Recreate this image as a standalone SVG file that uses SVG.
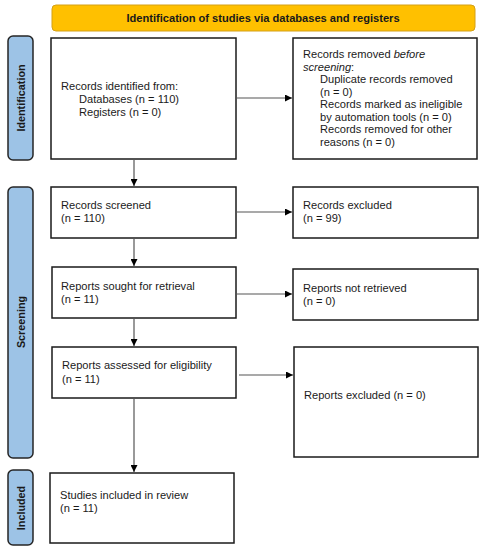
<svg xmlns="http://www.w3.org/2000/svg" width="483" height="550" viewBox="0 0 483 550">
<style>
.box{fill:#fff;stroke:#1a1a1a;stroke-width:1.5}
.side{fill:#9DC3E6;stroke:#262626;stroke-width:1.5}
.t{font-family:"Liberation Sans",Arial,sans-serif;font-size:11.1px;fill:#1a1a1a}
.sb{font-family:"Liberation Sans",Arial,sans-serif;font-size:10.8px;font-weight:bold;fill:#1a1a1a}
.c{stroke:#555;stroke-width:1.2;fill:none;marker-end:url(#ah)}
</style>
<defs>
<marker id="ah" viewBox="0 0 10 10" refX="10" refY="5" markerWidth="7" markerHeight="7" markerUnits="userSpaceOnUse" orient="auto">
<path d="M0,0 L10,5 L0,10 z" fill="#000"/>
</marker>
</defs>
<rect width="483" height="550" fill="#fff"/>
<g id="header">
<rect x="52" y="5" width="423" height="26" rx="4" fill="#FFC000" stroke="#D4A017" stroke-width="1"/>
<text x="263" y="22" text-anchor="middle" class="sb" style="font-size:11.1px">Identification of studies via databases and registers</text>
</g>
<g id="side-identification">
<rect x="8" y="36" width="25" height="124" rx="5" class="side"/>
<text transform="translate(24.5,98) rotate(-90)" text-anchor="middle" class="sb">Identification</text>
</g>
<g id="side-screening">
<rect x="8" y="187" width="25" height="271" rx="5" class="side"/>
<text transform="translate(24.5,322) rotate(-90)" text-anchor="middle" class="sb">Screening</text>
</g>
<g id="side-included">
<rect x="8" y="470" width="25" height="75" rx="5" class="side"/>
<text transform="translate(24.5,508) rotate(-90)" text-anchor="middle" class="sb">Included</text>
</g>
<g id="records-identified">
<rect x="51" y="38" width="185" height="121" class="box"/>
<text class="t" x="61" y="90">Records identified from:</text>
<text class="t" x="79" y="103">Databases (n = 110)</text>
<text class="t" x="79" y="115.5">Registers (n = 0)</text>
</g>
<g id="records-removed">
<rect x="293" y="38" width="184" height="121" class="box"/>
<text class="t" x="303" y="58">Records removed <tspan font-style="italic">before</tspan></text>
<text class="t" x="303" y="70.5"><tspan font-style="italic">screening</tspan>:</text>
<text class="t" x="320" y="83">Duplicate records removed</text>
<text class="t" x="320" y="95.5">(n = 0)</text>
<text class="t" x="320" y="108">Records marked as ineligible</text>
<text class="t" x="320" y="120.5">by automation tools (n = 0)</text>
<text class="t" x="320" y="133">Records removed for other</text>
<text class="t" x="320" y="145.5">reasons (n = 0)</text>
</g>
<g id="records-screened">
<rect x="51" y="187" width="185" height="51" class="box"/>
<text class="t" x="61" y="209">Records screened</text>
<text class="t" x="61" y="222">(n = 110)</text>
</g>
<g id="records-excluded">
<rect x="293" y="187" width="185" height="51" class="box"/>
<text class="t" x="303" y="209">Records excluded</text>
<text class="t" x="303" y="222">(n = 99)</text>
</g>
<g id="reports-sought">
<rect x="52" y="267" width="184" height="51" class="box"/>
<text class="t" x="61" y="290">Reports sought for retrieval</text>
<text class="t" x="61" y="303">(n = 11)</text>
</g>
<g id="reports-not-retrieved">
<rect x="293" y="269" width="185" height="51" class="box"/>
<text class="t" x="303" y="292">Reports not retrieved</text>
<text class="t" x="303" y="305">(n = 0)</text>
</g>
<g id="reports-assessed">
<rect x="52" y="347" width="184" height="51" class="box"/>
<text class="t" x="62" y="369">Reports assessed for eligibility</text>
<text class="t" x="62" y="383">(n = 11)</text>
</g>
<g id="reports-excluded">
<rect x="294" y="347" width="184" height="110" class="box"/>
<text class="t" x="304" y="399">Reports excluded (n = 0)</text>
</g>
<g id="studies-included">
<rect x="50" y="473" width="184" height="70" class="box"/>
<text class="t" x="60" y="499">Studies included in review</text>
<text class="t" x="60" y="512">(n = 11)</text>
</g>
<g id="connectors">
<line x1="236" y1="98" x2="292" y2="98" class="c"/>
<line x1="134" y1="159" x2="134" y2="186" class="c"/>
<line x1="236" y1="212" x2="292" y2="212" class="c"/>
<line x1="134" y1="238" x2="134" y2="266" class="c"/>
<line x1="237" y1="294" x2="292" y2="294" class="c"/>
<line x1="134" y1="318" x2="134" y2="346" class="c"/>
<line x1="239" y1="375" x2="293" y2="375" class="c"/>
<line x1="134" y1="398" x2="134" y2="472" class="c"/>
</g>
</svg>
